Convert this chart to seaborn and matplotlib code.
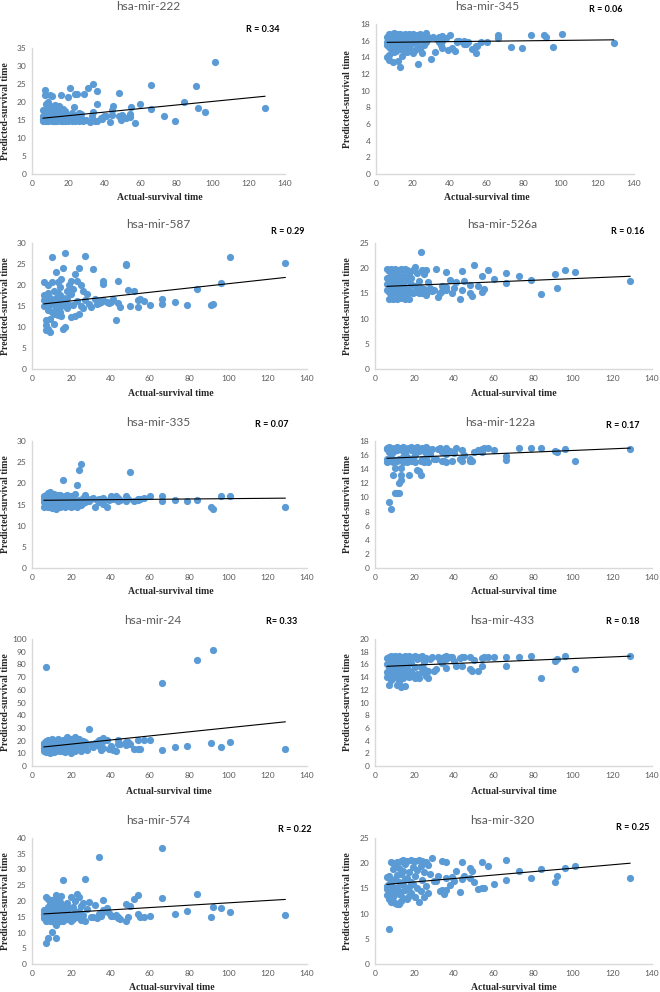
import pandas as pd
import matplotlib
matplotlib.use("Agg")
import matplotlib.pyplot as plt
import seaborn as sns

W, H = 660, 992
BLUE = "#5B9BD5"

# Actual survival time (same patients in every panel)
actual = [
    6, 6, 6, 6, 7, 7, 7, 7, 8, 8, 8, 8,
    9, 9, 9, 9, 10, 10, 10, 10, 11, 11, 11, 11,
    12, 12, 12, 12, 13, 13, 13, 13, 14, 14, 14, 14,
    15, 15, 15, 16, 16, 16, 17, 17, 17, 18, 18, 18,
    19, 19, 20, 20, 20, 21, 21, 22, 22, 23, 23,
    24, 24, 25, 25, 26, 26, 27, 27, 28, 29, 30,
    31, 32, 33, 34, 34, 35, 36, 36, 36,
    38, 39, 40, 41, 43, 44, 44, 45,
    48, 48, 49, 50, 52, 54, 54, 55, 57, 60,
    66, 66, 73, 79, 84, 91, 92, 96, 101, 129,
]

# Predicted survival time, one list per miRNA
pred_222 = [
    14.8, 16.0, 15.2, 17.8, 23.2, 22.0, 15.0, 16.5, 19.5, 14.7, 15.8, 17.2,
    20.0, 15.3, 14.6, 18.2, 22.0, 16.8, 15.0, 19.0, 21.8, 15.5, 14.7, 17.5,
    19.0, 16.2, 14.8, 18.0, 19.2, 15.0, 16.5, 14.6, 18.5, 15.6, 14.7, 17.0,
    19.0, 15.2, 16.2, 21.9, 14.8, 17.5, 18.0, 15.5, 14.6, 17.5, 14.8, 16.0,
    15.2, 16.8, 21.3, 14.6, 15.8, 24.0, 15.0, 17.0, 14.6, 18.5, 15.3,
    22.3, 14.7, 22.3, 16.0, 17.0, 14.6, 15.5, 16.8, 14.8, 22.3, 15.0,
    24.0, 14.5, 16.0, 25.0, 17.2, 14.6, 23.0, 19.5, 14.6,
    15.5, 15.2, 16.0, 16.2, 14.5, 17.7, 16.5, 19.0,
    22.5, 16.0, 15.0, 16.5, 15.5, 16.7, 15.8, 18.7, 14.3, 19.5,
    24.8, 18.0, 16.0, 14.8, 20.0, 24.5, 18.2, 17.2, 31.0, 18.2,
]
pred_345 = [
    15.8, 14.0, 16.5, 15.5, 13.7, 16.8, 15.2, 14.3, 16.2, 15.0, 16.7, 15.6,
    13.4, 16.0, 15.3, 16.8, 16.5, 14.6, 15.8, 16.9, 15.2, 16.6, 14.8, 16.0,
    13.6, 16.8, 15.5, 16.2, 12.9, 16.4, 15.0, 16.8, 14.2, 16.0, 16.7, 15.4,
    16.5, 14.9, 15.8, 16.8, 15.3, 16.1, 14.6, 16.6, 15.7, 16.3, 15.0, 16.8,
    15.6, 16.5, 14.5, 16.8, 15.9, 16.2, 14.9, 16.7, 15.6, 13.2, 16.4,
    15.0, 16.8, 16.1, 14.5, 16.6, 15.5, 16.9, 15.8, 16.4, 16.3, 13.8,
    16.5, 14.7, 16.2, 15.8, 16.4, 15.5, 16.6, 15.1, 16.0,
    16.3, 14.9, 16.7, 15.1, 14.8, 16.0, 15.9, 16.0,
    16.0, 15.6, 15.6, 15.8, 15.0, 14.5, 15.4, 15.4, 15.9, 15.9,
    16.7, 16.3, 15.2, 15.1, 16.7, 16.7, 16.5, 15.3, 16.8, 15.7,
]
pred_587 = [
    16.5, 15.0, 20.8, 17.5, 9.2, 11.6, 10.5, 16.0, 9.5, 20.0, 18.0, 14.0,
    8.8, 12.0, 17.0, 15.2, 26.7, 20.8, 13.5, 16.2, 13.0, 18.5, 15.5, 10.8,
    23.0, 14.2, 17.0, 16.0, 20.8, 12.8, 15.8, 18.2, 17.5, 13.6, 16.6, 19.5,
    21.5, 12.5, 15.0, 24.0, 9.6, 17.0, 27.7, 10.0, 15.6, 18.5, 14.5, 16.8,
    20.0, 15.2, 21.0, 17.8, 12.3, 19.0, 15.3, 22.5, 12.5, 21.0, 16.2,
    24.0, 13.0, 20.0, 15.0, 18.5, 14.6, 26.8, 16.5, 17.8, 15.5, 14.7,
    23.8, 16.7, 15.5, 15.6, 16.2, 16.0, 20.9, 20.2, 16.4,
    15.9, 15.8, 16.0, 16.6, 11.6, 21.0, 15.8, 14.8,
    25.0, 24.7, 18.9, 15.0, 18.6, 14.7, 16.5, 16.6, 16.1, 15.3,
    16.6, 15.4, 16.0, 15.2, 19.0, 15.2, 15.5, 20.4, 26.7, 25.3,
]
pred_526a = [
    19.8, 15.6, 18.0, 16.8, 13.8, 19.5, 15.2, 17.5, 16.4, 19.8, 14.6, 18.2,
    15.0, 19.6, 17.0, 13.9, 18.5, 15.5, 19.8, 16.2, 13.8, 17.4, 15.0, 19.0,
    19.6, 16.0, 14.5, 18.0, 15.3, 19.8, 17.2, 14.0, 19.7, 16.6, 15.0, 18.4,
    13.8, 19.8, 16.2, 17.6, 15.0, 19.6, 13.8, 18.8, 15.6, 16.9, 15.2, 18.0,
    19.6, 15.0, 20.3, 16.5, 15.2, 19.0, 15.4, 17.5, 15.0, 23.2, 16.0,
    19.6, 15.0, 18.8, 15.8, 19.6, 14.6, 17.3, 15.4, 16.0, 15.4, 15.7,
    19.8, 14.3, 15.0, 16.5, 15.4, 16.0, 19.2, 15.6, 16.2,
    17.7, 15.0, 16.0, 17.3, 13.9, 19.5, 15.6, 17.4,
    15.0, 16.6, 14.5, 20.7, 16.5, 18.4, 15.2, 15.9, 19.7, 17.9,
    17.0, 19.0, 18.4, 17.7, 14.9, 18.9, 16.0, 19.6, 19.2, 17.5,
]
pred_335 = [
    14.4, 17.0, 15.5, 16.2, 16.8, 15.0, 17.3, 14.8, 17.6, 15.8, 14.5, 16.5,
    18.0, 14.6, 16.0, 17.2, 15.2, 17.0, 14.2, 16.6, 14.8, 16.2, 17.4, 15.6,
    14.0, 17.0, 15.4, 16.4, 16.8, 14.3, 15.7, 17.2, 15.0, 17.3, 14.4, 16.1,
    16.6, 14.7, 17.1, 20.9, 15.2, 16.4, 14.5, 17.0, 15.8, 16.3, 14.6, 17.2,
    15.5, 16.8, 14.3, 17.0, 15.9, 16.5, 14.6, 17.4, 15.1, 19.6, 14.5,
    23.1, 16.0, 24.6, 14.8, 16.6, 15.3, 17.2, 15.6, 16.3, 15.8, 16.4,
    16.5, 14.4, 16.0, 16.3, 15.6, 16.3, 15.2, 16.6, 15.8,
    14.3, 16.0, 16.9, 16.2, 17.1, 15.8, 16.5, 16.0,
    15.8, 17.1, 16.2, 22.7, 15.8, 16.3, 16.0, 16.4, 16.6, 17.0,
    17.1, 15.9, 16.0, 15.9, 16.0, 14.4, 13.9, 17.1, 17.1, 14.4,
]
pred_122a = [
    16.8, 15.4, 15.0, 17.0, 9.4, 16.5, 15.1, 17.1, 8.3, 17.0, 15.6, 16.2,
    13.2, 16.9, 15.0, 16.4, 14.2, 10.7, 17.0, 15.3, 10.7, 16.7, 15.1, 17.1,
    12.0, 10.7, 16.8, 15.5, 13.2, 14.2, 12.5, 17.0, 16.6, 15.0, 17.1, 15.8,
    17.0, 15.2, 16.3, 16.9, 15.0, 15.7, 13.2, 17.0, 15.4, 16.7, 15.1, 17.1,
    15.6, 17.0, 16.8, 15.0, 16.0, 13.9, 17.1, 13.8, 16.6, 13.2, 15.2,
    17.0, 15.5, 16.6, 15.0, 17.1, 15.7, 16.9, 15.0, 16.2, 16.8, 15.4,
    15.4, 16.8, 17.0, 15.1, 16.5, 15.2, 17.0, 16.2, 15.0,
    16.6, 15.2, 16.3, 17.0, 15.4, 15.2, 16.7, 16.0,
    15.5, 15.2, 15.1, 16.4, 16.7, 16.5, 16.9, 17.0, 17.0, 16.7,
    15.9, 15.3, 17.0, 17.0, 17.0, 16.6, 16.5, 16.8, 15.2, 16.8,
]
pred_24 = [
    14.0, 16.5, 12.0, 18.0, 77.8, 15.0, 19.5, 11.0, 13.0, 17.5, 20.5, 15.5,
    16.0, 10.5, 19.0, 14.0, 21.0, 12.5, 17.0, 15.0, 18.5, 11.0, 14.5, 20.0,
    15.5, 19.5, 12.0, 17.0, 13.5, 18.0, 21.0, 16.0, 20.0, 11.5, 16.5, 14.0,
    17.5, 13.0, 19.5, 14.5, 20.5, 12.0, 18.0, 15.5, 11.0, 23.0, 16.0, 13.5,
    19.0, 12.5, 21.5, 15.0, 10.5, 17.0, 13.0, 22.5, 11.5, 16.5, 20.0,
    14.0, 21.0, 18.5, 12.0, 20.0, 13.5, 15.0, 19.0, 12.5, 29.0, 17.0,
    15.0, 18.0, 19.0, 16.0, 20.5, 12.9, 22.2, 14.0, 19.5,
    20.3, 13.2, 16.0, 12.9, 11.6, 20.3, 17.0, 17.2,
    16.6, 19.0, 18.7, 17.5, 13.7, 13.2, 20.3, 13.5, 20.3, 20.3,
    65.7, 12.7, 14.8, 16.1, 83.4, 18.5, 91.3, 14.8, 19.0, 13.2,
]
pred_433 = [
    17.0, 14.8, 16.0, 14.0, 12.7, 17.2, 15.5, 16.4, 14.2, 17.3, 16.0, 13.6,
    17.1, 15.0, 16.7, 13.9, 14.5, 17.3, 15.8, 16.2, 12.7, 17.0, 14.0, 15.6,
    16.8, 13.3, 17.3, 15.0, 12.4, 17.2, 14.6, 16.0, 17.0, 13.9, 15.5, 16.6,
    12.6, 17.3, 14.8, 17.1, 15.7, 14.2, 16.5, 17.3, 14.0, 17.2, 15.0, 16.2,
    14.3, 17.1, 17.3, 13.9, 15.6, 16.8, 14.5, 17.2, 13.9, 15.6, 17.0,
    17.3, 14.8, 15.2, 16.4, 17.0, 14.2, 13.8, 15.0, 16.8, 17.2, 14.9,
    15.3, 17.2, 16.5, 17.0, 16.2, 17.2, 15.4, 17.3, 16.8,
    17.2, 17.2, 16.6, 15.8, 17.0, 15.8, 17.2, 17.1,
    15.3, 17.2, 14.9, 16.7, 15.0, 15.7, 17.0, 17.2, 17.2, 17.2,
    17.2, 15.7, 17.2, 17.3, 13.8, 16.6, 16.9, 17.3, 15.3, 17.3,
]
pred_574 = [
    15.5, 14.5, 17.0, 16.2, 6.7, 21.2, 15.8, 13.8, 8.3, 18.0, 14.2, 20.5,
    16.5, 13.5, 19.0, 15.0, 10.3, 17.5, 20.2, 14.8, 16.0, 19.2, 13.2, 15.2,
    8.1, 21.8, 12.5, 17.2, 18.5, 14.0, 16.2, 20.5, 15.5, 19.8, 13.8, 17.0,
    21.6, 14.5, 18.2, 26.7, 16.0, 13.6, 18.8, 15.0, 17.5, 14.2, 19.5, 16.4,
    17.8, 14.8, 21.2, 15.5, 13.5, 18.0, 14.2, 16.6, 20.0, 22.1, 15.0,
    21.3, 16.8, 14.0, 18.5, 19.5, 15.6, 26.9, 13.8, 17.5, 19.8, 15.0,
    15.0, 18.7, 14.5, 33.9, 16.0, 15.3, 20.3, 16.5, 17.0,
    17.7, 16.2, 15.3, 15.3, 15.6, 15.0, 14.6, 14.2,
    19.0, 13.6, 15.0, 18.4, 20.5, 22.0, 15.8, 15.0, 15.0, 15.2,
    36.7, 20.9, 16.0, 16.8, 22.1, 15.0, 18.0, 17.7, 16.5, 15.5,
]
pred_320 = [
    15.5, 13.6, 17.2, 14.8, 6.9, 17.5, 12.8, 15.8, 14.0, 20.2, 16.5, 12.4,
    18.8, 13.2, 20.0, 15.2, 16.8, 12.2, 19.5, 14.5, 20.3, 12.0, 17.6, 15.0,
    13.8, 19.0, 16.2, 11.9, 20.5, 14.2, 17.8, 12.5, 15.6, 20.6, 13.0, 18.4,
    19.8, 14.6, 16.8, 12.8, 20.4, 17.0, 18.2, 15.2, 13.5, 20.6, 16.2, 14.0,
    19.2, 15.8, 20.5, 13.2, 17.5, 18.6, 15.0, 20.6, 12.4, 14.5, 19.4,
    20.5, 16.6, 13.2, 18.2, 20.2, 15.4, 19.6, 14.0, 17.8, 21.0, 16.5,
    16.4, 17.5, 14.5, 20.5, 14.7, 13.9, 20.3, 14.7, 17.0,
    15.6, 17.2, 16.4, 18.4, 14.2, 20.3, 16.8, 17.5,
    19.0, 17.0, 18.4, 16.2, 14.8, 20.3, 15.0, 15.0, 19.5, 15.9,
    20.7, 16.6, 18.5, 17.0, 18.8, 16.2, 17.4, 19.0, 19.5, 17.1,
]

mirnas = ["hsa-mir-222", "hsa-mir-345", "hsa-mir-587", "hsa-mir-526a", "hsa-mir-335",
          "hsa-mir-122a", "hsa-mir-24", "hsa-mir-433", "hsa-mir-574", "hsa-mir-320"]
r_text = ["R = 0.34", "R = 0.06", "R = 0.29", "R = 0.16", "R = 0.07",
          "R = 0.17", "R= 0.33", "R = 0.18", "R = 0.22", "R = 0.25"]
predicted = [pred_222, pred_345, pred_587, pred_526a, pred_335,
             pred_122a, pred_24, pred_433, pred_574, pred_320]
y_max = [35, 18, 30, 25, 30, 18, 100, 20, 40, 25]
y_step = [5, 2, 5, 5, 5, 2, 10, 2, 5, 5]

# linear trend line end points (x = 6 and x = 129)
trend_x = [6, 129]
trend_y = [[15.5, 21.6], [15.8, 16.1], [15.5, 21.8], [16.4, 18.4], [16.0, 16.5],
           [15.55, 17.0], [15.0, 34.8], [15.7, 17.3], [15.9, 20.5], [15.8, 20.0]]

# layout in pixels: plot area (left, right, top, bottom) and text anchors
boxes = [(32, 285, 48, 174), (376, 634, 24, 174),
         (32, 307, 243, 369), (375, 652, 243, 369),
         (32, 307, 441, 568), (375, 652, 441, 568),
         (32, 307, 639, 766), (375, 652, 639, 766),
         (32, 307, 838, 964), (375, 652, 838, 964)]
title_pos = [(148, 6), (487, 6), (158, 224), (502, 224), (158, 423),
             (500, 422), (153, 621), (502, 621), (158, 820), (502, 820)]
r_pos = [(263, 29), (606, 9), (288, 232), (628, 232), (272, 424),
         (623, 426), (282, 622), (623, 622), (295, 829), (633, 827)]
xlabel_pos = [(160, 197), (487, 197), (171, 393), (514, 393), (171, 592),
              (514, 592), (169, 791), (514, 791), (172, 988), (514, 988)]
ylabel_x = [6, 347] * 5

sns.set_theme(style="white")
plt.rcParams["font.family"] = ["Lato", "DejaVu Sans"]

fig = plt.figure(figsize=(W / 100, H / 100), dpi=100)

for i in range(len(mirnas)):
    l, r, t, b = boxes[i]
    ax = fig.add_axes([l / W, 1 - b / H, (r - l) / W, (b - t) / H])
    df = pd.DataFrame({"actual": actual, "predicted": predicted[i]})
    sns.scatterplot(data=df, x="actual", y="predicted", ax=ax, color=BLUE,
                    s=27, linewidth=0, legend=False, clip_on=False)
    sns.lineplot(x=trend_x, y=trend_y[i], ax=ax, color="black", linewidth=0.8)

    ax.set_xlim(0, 140)
    ax.set_ylim(0, y_max[i])
    ax.set_xticks(range(0, 141, 20))
    ax.set_yticks(range(0, y_max[i] + 1, y_step[i]))
    ax.set_xlabel("")
    ax.set_ylabel("")
    sns.despine(ax=ax)
    for side in ["left", "bottom"]:
        ax.spines[side].set_color("#D9D9D9")
        ax.spines[side].set_linewidth(1)
    ax.tick_params(length=0, labelsize=6, labelcolor="#595959", pad=4)

    # titles, R value and axis labels
    tx, ty = title_pos[i]
    fig.text(tx / W, 1 - ty / H, mirnas[i], ha="center", va="center",
             fontsize=8.6, color="#595959")
    rx, ry = r_pos[i]
    fig.text(rx / W, 1 - ry / H, r_text[i], ha="center", va="center",
             fontsize=6.5, fontweight="bold", color="black")
    lx, ly = xlabel_pos[i]
    fig.text(lx / W, 1 - ly / H, "Actual-survival time", ha="center", va="center",
             fontsize=7, fontweight="bold", family="Liberation Serif")
    fig.text(ylabel_x[i] / W, 1 - (t + b) / 2 / H, "Predicted-survival time",
             ha="center", va="center", rotation=90, fontsize=7,
             fontweight="bold", family="Liberation Serif")

fig.savefig("out.png", dpi=100)
